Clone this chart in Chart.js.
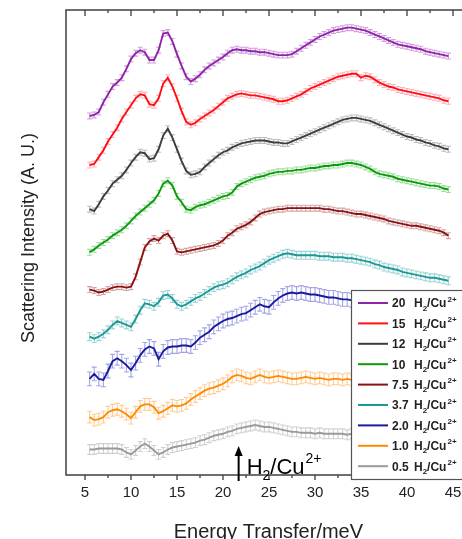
<!DOCTYPE html>
<html>
<head>
<meta charset="utf-8">
<title>Scattering intensity vs energy transfer</title>
<script src="https://cdn.jsdelivr.net/npm/chart.js@4.4.1/dist/chart.umd.min.js"></script>
<style>
  html, body { margin: 0; padding: 0; background: #ffffff; overflow: hidden; }
  canvas { display: block; }
</style>
</head>
<body>
<canvas id="myChart" width="475" height="550"></canvas>
<script>
// Energy transfer (meV), x values shared by every curve
var energy = [5.5, 6, 6.5, 7, 7.5, 8, 8.5, 9, 9.5, 10,
  10.5, 11, 11.5, 12, 12.5, 13, 13.5, 14, 14.5, 15,
  15.5, 16, 16.5, 17, 17.5, 18, 18.5, 19, 19.5, 20,
  20.5, 21, 21.5, 22, 22.5, 23, 23.5, 24, 24.5, 25,
  25.5, 26, 26.5, 27, 27.5, 28, 28.5, 29, 29.5, 30,
  30.5, 31, 31.5, 32, 32.5, 33, 33.5, 34, 34.5, 35,
  35.5, 36, 36.5, 37, 37.5, 38, 38.5, 39, 39.5, 40,
  40.5, 41, 41.5, 42, 42.5, 43, 43.5, 44, 44.5];

// Scattering intensity (A. U.), curves already shifted apart
var h20 = [366, 367, 370, 380, 388, 396, 400, 405, 414, 424,
  430, 433, 431, 423, 423, 433, 450, 451, 442, 429,
  417, 406, 401, 404, 408, 413, 417, 420, 423, 426,
  430, 433, 434, 433, 433, 432, 432, 431, 431, 430,
  429, 428, 428, 428, 429, 432, 435, 438, 441, 444,
  447, 449, 451, 453, 454, 455, 456, 456, 455, 454,
  453, 451, 449, 447, 445, 443, 441, 439, 438, 437,
  436, 435, 434, 432, 431, 430, 429, 428, 427];
var h15 = [316, 317, 324, 331, 340, 347, 354, 363, 370, 377,
  384, 388, 387, 378, 377, 384, 399, 405, 396, 384,
  371, 360, 357, 359, 363, 366, 369, 372, 376, 380,
  384, 386, 388, 389, 388, 387, 387, 386, 385, 384,
  383, 381, 381, 382, 384, 386, 388, 391, 394, 396,
  398, 400, 402, 404, 406, 407, 408, 409, 409, 405,
  407, 406, 403, 400, 398, 396, 395, 393, 392, 391,
  390, 389, 388, 387, 386, 385, 384, 382, 381];
var h12 = [271, 269, 276, 284, 290, 297, 301, 305, 311, 318,
  324, 329, 328, 322, 323, 332, 346, 353, 344, 332,
  320, 310, 306, 307, 309, 314, 318, 322, 326, 329,
  331, 334, 336, 338, 339, 340, 341, 341, 341, 340,
  339, 339, 338, 338, 340, 342, 344, 346, 348, 350,
  352, 354, 356, 358, 360, 362, 363, 364, 364, 363,
  362, 361, 359, 357, 355, 353, 351, 349, 347, 345,
  344, 342, 341, 339, 338, 336, 335, 333, 332];
var h10 = [227, 230, 234, 237, 240, 244, 247, 250, 254, 259,
  264, 268, 272, 276, 280, 287, 297, 300, 295, 284,
  278, 271, 270, 273, 275, 276, 278, 280, 282, 284,
  285, 288, 294, 297, 299, 301, 303, 304, 305, 307,
  308, 309, 309, 310, 310, 311, 311, 312, 313, 313,
  314, 315, 315, 316, 316, 317, 318, 318, 317, 316,
  314, 312, 309, 307, 306, 305, 304, 302, 301, 300,
  299, 298, 297, 296, 295, 295, 294, 292, 291];
var h7_5 = [189, 188, 186, 187, 189, 191, 192, 192, 191, 192,
  202, 217, 232, 238, 241, 239, 244, 246, 239, 228,
  227, 228, 229, 230, 231, 232, 233, 234, 236, 239,
  244, 247, 251, 253, 255, 258, 262, 266, 268, 269,
  270, 271, 271, 272, 272, 272, 272, 272, 272, 272,
  272, 271, 271, 270, 269, 269, 268, 267, 266, 266,
  265, 264, 263, 262, 261, 259, 258, 257, 256, 255,
  254, 254, 253, 252, 251, 250, 249, 247, 244];
var h3_7 = [141, 139, 141, 144, 148, 153, 157, 155, 153, 151,
  159, 168, 175, 174, 172, 176, 183, 184, 180, 174,
  172, 174, 177, 180, 182, 185, 188, 191, 193, 194,
  196, 199, 202, 204, 206, 209, 211, 213, 216, 219,
  221, 223, 225, 226, 225, 224, 224, 224, 224, 224,
  223, 223, 223, 222, 222, 222, 221, 221, 220, 219,
  218, 217, 215, 214, 212, 211, 210, 209, 207, 206,
  205, 204, 203, 202, 201, 201, 200, 199, 198];
var h2_0 = [98, 103, 98, 97, 106, 116, 119, 116, 112, 107,
  114, 122, 128, 131, 129, 118, 126, 130, 131, 131,
  132, 132, 131, 135, 140, 143, 146, 151, 154, 157,
  159, 160, 162, 164, 165, 168, 171, 174, 172, 171,
  176, 180, 183, 185, 186, 185, 186, 185, 184, 184,
  183, 182, 181, 181, 180, 179, 179, 178, 178, 177,
  177, 176, 176, 175, 175, 174, 174, 173, 173, 172,
  172, 171, 171, 170, 170, 169, 169, 168, 168];
var h1_0 = [59, 56, 57, 59, 64, 66, 67, 65, 62, 58,
  64, 70, 72, 72, 69, 63, 65, 68, 71, 70,
  71, 73, 77, 80, 83, 86, 88, 89, 91, 93,
  96, 100, 102, 101, 99, 98, 100, 102, 100, 99,
  100, 101, 100, 99, 98, 98, 99, 100, 99, 98,
  99, 98, 97, 98, 98, 97, 98, 97, 97, 97,
  96, 96, 96, 95, 95, 95, 94, 94, 94, 93,
  93, 93, 92, 92, 92, 91, 91, 91, 90];
var h0_5 = [26, 26, 27, 27, 27, 27, 27, 26, 23, 21,
  25, 29, 32, 29, 25, 21, 23, 26, 28, 29,
  30, 31, 32, 33, 35, 36, 38, 40, 41, 42,
  44, 45, 47, 48, 49, 50, 51, 50, 49, 49,
  48, 47, 46, 45, 44, 44, 43, 43, 43, 42,
  43, 42, 42, 42, 42, 42, 41, 42, 41, 41,
  41, 40, 40, 40, 40, 40, 40, 39, 39, 39,
  39, 39, 39, 39, 39, 39, 39, 39, 39];

// H2/Cu2+ loadings, in legend order
var loadings = ['20', '15', '12', '10', '7.5', '3.7', '2.0', '1.0', '0.5'];
var curves = [h20, h15, h12, h10, h7_5, h3_7, h2_0, h1_0, h0_5];
// error bar half height (A. U.)
var errors = [3, 3, 3, 3, 3, 4, 7, 6, 5];

var xTicks = [5, 10, 15, 20, 25, 30, 35, 40, 45];
var minorTicks = [7.5, 12.5, 17.5, 22.5, 27.5, 32.5, 37.5, 42.5];
var arrowAt = 21.7;

var FONT = '"Liberation Sans", Arial, Helvetica, sans-serif';
var colors = ['#8e24a8', '#ff1010', '#3d3d3d', '#0b9a0b', '#8a1212', '#1c9898', '#1a1a9e', '#ff8a00', '#9a9a9a'];
var errColors = ['rgba(175,80,195,0.55)', 'rgba(255,100,130,0.5)', 'rgba(110,110,110,0.45)',
  'rgba(70,190,70,0.5)', 'rgba(160,60,60,0.45)', 'rgba(60,170,170,0.5)',
  'rgba(90,90,210,0.55)', 'rgba(255,170,80,0.6)', 'rgba(170,170,170,0.55)'];

Chart.defaults.font.family = FONT;
Chart.defaults.color = '#222';

var datasets = curves.map(function (vals, i) {
  return {
    label: loadings[i] + ' H2/Cu2+',
    data: energy.map(function (e, j) { return { x: e, y: vals[j] }; }),
    borderColor: colors[i],
    backgroundColor: colors[i],
    borderWidth: 1.9,
    pointRadius: 0,
    fill: false,
    tension: 0,
    errorBar: errors[i],
    errorColor: errColors[i]
  };
});

// H2/Cu2+ with sub- and superscript
function chem(c, x, y, size, weight) {
  var big = weight + size + 'px ' + FONT;
  var small = weight + Math.round(size * 0.65) + 'px ' + FONT;
  c.textAlign = 'left';
  c.textBaseline = 'alphabetic';
  c.font = big; c.fillText('H', x, y); x += c.measureText('H').width;
  c.font = small; c.fillText('2', x, y + size * 0.28); x += c.measureText('2').width;
  c.font = big; c.fillText('/Cu', x, y); x += c.measureText('/Cu').width;
  c.font = small; c.fillText('2+', x + 1, y - size * 0.48);
}

var decor = {
  id: 'decor',
  beforeDatasetsDraw: function (chart) {
    var c = chart.ctx, a = chart.chartArea, ys = chart.scales.y;
    c.save();
    c.beginPath();
    c.rect(a.left, a.top, a.right - a.left, a.bottom - a.top);
    c.clip();
    chart.data.datasets.forEach(function (ds, i) {
      var pts = chart.getDatasetMeta(i).data;
      c.strokeStyle = ds.errorColor;
      c.lineWidth = 1.1;
      c.beginPath();
      pts.forEach(function (p, j) {
        var v = ds.data[j].y;
        var t = ys.getPixelForValue(v + ds.errorBar);
        var b = ys.getPixelForValue(v - ds.errorBar);
        c.moveTo(p.x, t); c.lineTo(p.x, b);
        c.moveTo(p.x - 2.5, t); c.lineTo(p.x + 2.5, t);
        c.moveTo(p.x - 2.5, b); c.lineTo(p.x + 2.5, b);
      });
      c.stroke();
    });
    c.restore();
  },
  afterDraw: function (chart) {
    var c = chart.ctx, a = chart.chartArea, xs = chart.scales.x;
    c.save();

    // frame and ticks
    c.strokeStyle = '#4a4a4a';
    c.lineWidth = 1.6;
    c.strokeRect(a.left, a.top, a.right - a.left, a.bottom - a.top);
    c.lineWidth = 1.4;
    c.beginPath();
    xTicks.forEach(function (v) {
      var px = xs.getPixelForValue(v);
      c.moveTo(px, a.bottom); c.lineTo(px, a.bottom + 5);
      c.moveTo(px, a.top); c.lineTo(px, a.top + 6);
    });
    minorTicks.forEach(function (v) {
      var px = xs.getPixelForValue(v);
      c.moveTo(px, a.bottom); c.lineTo(px, a.bottom + 3);
      c.moveTo(px, a.top); c.lineTo(px, a.top + 3);
    });
    c.stroke();

    // y title
    c.save();
    c.translate(29, 238);
    c.rotate(-Math.PI / 2);
    c.font = '18px ' + FONT;
    c.fillStyle = '#222';
    c.textAlign = 'center';
    c.textBaseline = 'middle';
    c.fillText('Scattering Intensity (A. U.)', 0, 0);
    c.restore();

    // arrow marking H2/Cu2+
    var ax = xs.getPixelForValue(arrowAt);
    c.strokeStyle = '#000';
    c.fillStyle = '#000';
    c.lineWidth = 2;
    c.beginPath(); c.moveTo(ax, 481); c.lineTo(ax, 454); c.stroke();
    c.beginPath(); c.moveTo(ax, 446); c.lineTo(ax - 4, 456); c.lineTo(ax + 4, 456); c.closePath(); c.fill();
    chem(c, ax + 8, 474, 22, '');

    // legend
    var lx = 351, ly = 290;
    c.fillStyle = '#fff';
    c.fillRect(lx, ly, 130, 189);
    c.strokeStyle = '#555';
    c.lineWidth = 1.2;
    c.strokeRect(lx + 0.5, ly + 0.5, 130, 189);
    chart.data.datasets.forEach(function (ds, i) {
      var y = 303 + i * 20.4;
      c.strokeStyle = ds.borderColor;
      c.lineWidth = 2;
      c.beginPath(); c.moveTo(358, y); c.lineTo(388, y); c.stroke();
      c.fillStyle = '#222';
      c.font = 'bold 12px ' + FONT;
      c.textAlign = 'left';
      c.textBaseline = 'alphabetic';
      c.fillText(loadings[i], 392, y + 4.3);
      chem(c, 414, y + 4.3, 12, 'bold ');
    });

    c.restore();
  }
};

var myChart = new Chart(document.getElementById('myChart'), {
  type: 'line',
  data: { datasets: datasets },
  options: {
    responsive: false,
    animation: false,
    devicePixelRatio: 1,
    layout: { padding: { left: 66, right: 4.2, top: 10, bottom: 5.6 } },
    plugins: { legend: { display: false }, tooltip: { enabled: false } },
    scales: {
      x: {
        type: 'linear',
        min: 2.935,
        max: 46.935,
        afterBuildTicks: function (s) {
          s.ticks = xTicks.map(function (v) { return { value: v }; });
        },
        grid: { display: false, drawTicks: false },
        border: { display: false },
        ticks: { font: { size: 15 }, color: '#222', padding: 9, maxRotation: 0, autoSkip: false },
        title: {
          display: true,
          text: 'Energy Transfer/meV',
          font: { size: 20 },
          color: '#222',
          padding: { top: 9.4, bottom: 0 }
        }
      },
      y: { display: false, min: 0, max: 474 }
    }
  },
  plugins: [decor]
});
</script>
</body>
</html>
